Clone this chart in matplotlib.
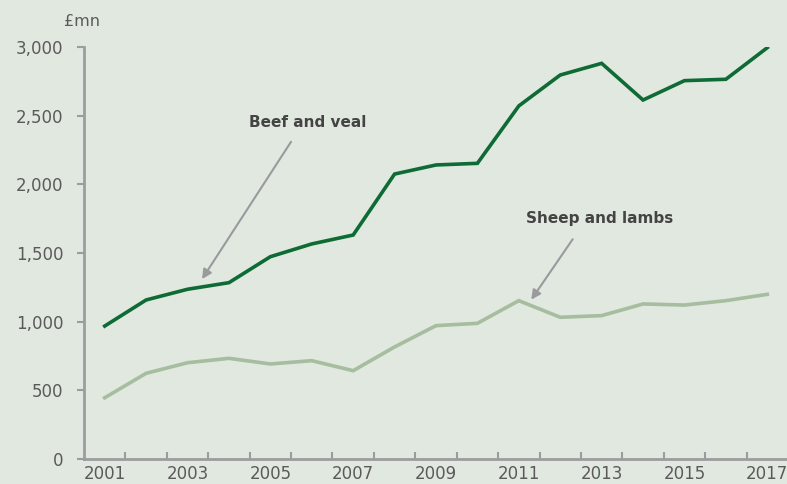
import matplotlib.pyplot as plt
import numpy as np

# data (£mn)
years = np.arange(2001, 2018)
beef = [968, 1158, 1236, 1284, 1473, 1566, 1631, 2075, 2141, 2153,
        2571, 2796, 2881, 2614, 2755, 2765, 2995]
sheep = [446, 624, 701, 733, 692, 716, 643, 816, 971, 988,
         1153, 1032, 1044, 1129, 1121, 1153, 1199]
tick_years = [2001, 2003, 2005, 2007, 2009, 2011, 2013, 2015, 2017]

bg = '#e1e8df'
axis_col = '#9b9ca0'
text_col = '#5a5a5a'

plt.rcParams['font.family'] = ['DejaVu Sans']

fig = plt.figure(figsize=(7.87, 4.84), dpi=100, facecolor=bg)
ax = fig.add_axes([84/787, 1-459/484, 704/787, 412/484], facecolor=bg)

ax.plot(years, beef, color='#0e6b35', lw=2.6, solid_joinstyle='miter')
ax.plot(years, sheep, color='#a6bd9f', lw=2.6, solid_joinstyle='miter')

ax.set_xlim(2000.5, 2017.5)
ax.set_ylim(0, 3000)

for s in ['top', 'right']:
    ax.spines[s].set_visible(False)
for s in ['left', 'bottom']:
    ax.spines[s].set_color(axis_col)
    ax.spines[s].set_linewidth(2)

ax.set_yticks([0, 500, 1000, 1500, 2000, 2500, 3000])
ax.set_yticklabels(['0', '500', '1,000', '1,500', '2,000', '2,500', '3,000'])
ax.tick_params(axis='y', direction='out', length=5, width=1.5, color=axis_col,
               labelsize=12, labelcolor=text_col, pad=10)

ax.set_xticks(tick_years)
ax.set_xticklabels([str(y) for y in tick_years])
ax.set_xticks(np.arange(2001.5, 2017, 1), minor=True)
ax.tick_params(axis='x', which='major', length=0, labelsize=12,
               labelcolor=text_col, pad=4)
ax.tick_params(axis='x', which='minor', direction='in', length=5, width=1.5,
               color=axis_col)

fig.text(82/787, 1-21/484, '£mn', ha='center', va='center', fontsize=11.5,
         color=text_col)

arrow = dict(arrowstyle='-|>', color='#9a9a9e', lw=1.5, mutation_scale=14,
             shrinkA=0, shrinkB=0)
ax.annotate('', xy=(2003.35, 1310), xytext=(2005.5, 2310), arrowprops=arrow)
ax.text(2005.9, 2447, 'Beef and veal', ha='center', va='center',
        fontsize=11, fontweight='bold', color='#444444')
ax.annotate('', xy=(2011.3, 1160), xytext=(2012.3, 1600), arrowprops=arrow)
ax.text(2012.95, 1750, 'Sheep and lambs', ha='center', va='center',
        fontsize=11, fontweight='bold', color='#444444')

fig.savefig('out.png', dpi=100, facecolor=bg)
